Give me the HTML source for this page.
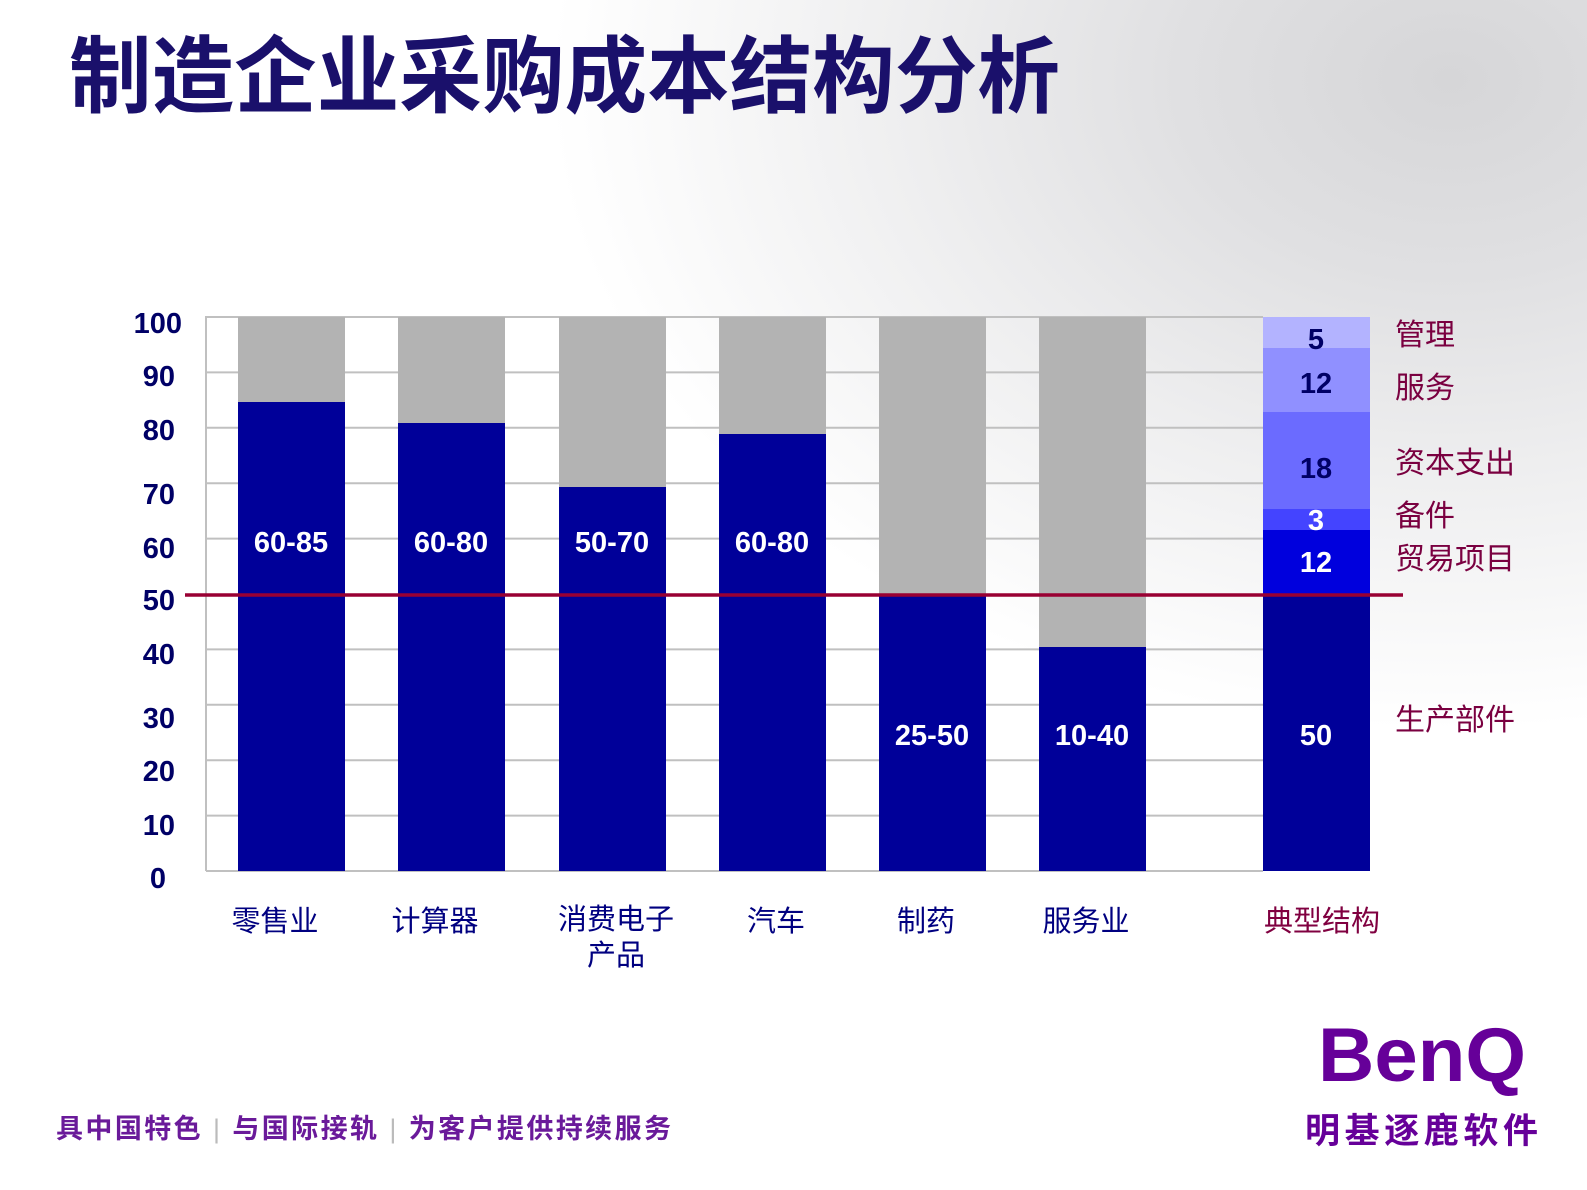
<!DOCTYPE html>
<html><head><meta charset="utf-8"><style>
html,body{margin:0;padding:0;}
body{width:1587px;height:1190px;overflow:hidden;position:relative;background:#fff;font-family:"Liberation Sans","Noto Sans CJK SC",sans-serif;}
.bg{position:absolute;left:0;top:0;width:1587px;height:1190px;background:radial-gradient(ellipse 900px 650px at 1450px 80px,#d6d6d8 0%,#e0e0e2 30%,#eeeeef 60%,rgba(255,255,255,0) 100%);}
</style></head><body>
<div class="bg"></div>
<svg width="1587" height="1190" style="position:absolute;left:0;top:0" font-family="Liberation Sans, Noto Sans CJK SC, sans-serif">
<text x="69" y="106" font-size="84" font-weight="bold" fill="#1a106b" textLength="991" lengthAdjust="spacingAndGlyphs">制造企业采购成本结构分析</text>
<g stroke="#c0c0c0" stroke-width="2">
<line x1="206" y1="317" x2="1263" y2="317"/><line x1="206" y1="372.4" x2="1263" y2="372.4"/>
<line x1="206" y1="427.8" x2="1263" y2="427.8"/><line x1="206" y1="483.2" x2="1263" y2="483.2"/>
<line x1="206" y1="538.6" x2="1263" y2="538.6"/><line x1="206" y1="649.4" x2="1263" y2="649.4"/>
<line x1="206" y1="704.8" x2="1263" y2="704.8"/><line x1="206" y1="760.2" x2="1263" y2="760.2"/>
<line x1="206" y1="815.6" x2="1263" y2="815.6"/><line x1="206" y1="871" x2="1263" y2="871"/>
<line x1="206" y1="316" x2="206" y2="871"/>
</g>
<g fill="#b3b3b3">
<rect x="238" y="317" width="107" height="554"/><rect x="398" y="317" width="107" height="554"/>
<rect x="559" y="317" width="107" height="554"/><rect x="719" y="317" width="107" height="554"/>
<rect x="879" y="317" width="107" height="554"/><rect x="1039" y="317" width="107" height="554"/>
</g>
<g fill="#000099">
<rect x="238" y="402" width="107" height="469"/><rect x="398" y="423" width="107" height="448"/>
<rect x="559" y="487" width="107" height="384"/><rect x="719" y="434" width="107" height="437"/>
<rect x="879" y="594" width="107" height="277"/><rect x="1039" y="647" width="107" height="224"/>
<rect x="1263" y="594" width="107" height="277"/>
</g>
<rect x="1263" y="317" width="107" height="31" fill="#b3b3ff"/>
<rect x="1263" y="348" width="107" height="64" fill="#9090ff"/>
<rect x="1263" y="412" width="107" height="97" fill="#6b6bff"/>
<rect x="1263" y="509" width="107" height="21" fill="#4444ff"/>
<rect x="1263" y="530" width="107" height="64" fill="#0000dd"/>
<line x1="185" y1="595" x2="1403" y2="595" stroke="#990033" stroke-width="3.5"/>
<g font-size="29" font-weight="bold" fill="#fff" text-anchor="middle">
<text x="291" y="552">60-85</text><text x="451" y="552">60-80</text>
<text x="612" y="552">50-70</text><text x="772" y="552">60-80</text>
<text x="932" y="745">25-50</text><text x="1092" y="745">10-40</text>
<text x="1316" y="745">50</text><text x="1316" y="572">12</text><text x="1316" y="530">3</text>
</g>
<g font-size="29" font-weight="bold" fill="#000066" text-anchor="middle">
<text x="1316" y="349">5</text><text x="1316" y="393">12</text><text x="1316" y="478">18</text>
</g>
<g font-size="29" font-weight="bold" fill="#000066" text-anchor="end">
<text x="182" y="333">100</text><text x="175" y="386">90</text><text x="175" y="440">80</text>
<text x="175" y="504">70</text><text x="175" y="558">60</text><text x="175" y="610">50</text>
<text x="175" y="664">40</text><text x="175" y="728">30</text><text x="175" y="781">20</text>
<text x="175" y="835">10</text><text x="166" y="888">0</text>
</g>
<g font-size="29" fill="#000080" text-anchor="middle">
<text x="275" y="931">零售业</text><text x="435" y="931">计算器</text>
<text x="616" y="929">消费电子</text><text x="616" y="965">产品</text>
<text x="776" y="931">汽车</text><text x="926" y="931">制药</text><text x="1086" y="931">服务业</text>
</g>
<text x="1322" y="931" font-size="29" fill="#800040" text-anchor="middle">典型结构</text>
<g font-size="30" fill="#7a0040">
<text x="1395" y="345">管理</text><text x="1395" y="398">服务</text>
<text x="1395" y="473">资本支出</text><text x="1395" y="526">备件</text>
<text x="1395" y="569">贸易项目</text><text x="1395" y="730">生产部件</text>
</g>
<text x="56" y="1138" font-size="27" font-weight="bold" fill="#6a1a9a" textLength="615" lengthAdjust="spacing">具中国特色 <tspan fill="#bbb" font-weight="normal">|</tspan> 与国际接轨 <tspan fill="#bbb" font-weight="normal">|</tspan> 为客户提供持续服务</text>
<text x="1318" y="1081" font-size="76" font-weight="bold" fill="#660099" textLength="208" lengthAdjust="spacingAndGlyphs">BenQ</text>
<text x="1305" y="1143" font-size="35" font-weight="bold" fill="#660099" textLength="233">明基逐鹿软件</text>
</svg>
</body></html>
